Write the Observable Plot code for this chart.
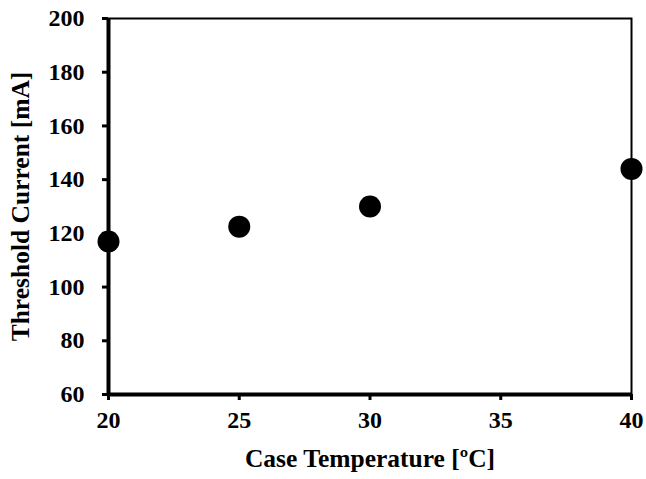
<!DOCTYPE html>
<html>
<head>
<meta charset="utf-8">
<script src="https://cdn.jsdelivr.net/npm/d3@7"></script>
<script src="https://cdn.jsdelivr.net/npm/@observablehq/plot@0.6"></script>
<style>
  html, body { margin: 0; padding: 0; background: #fff; }
  #chart svg { display: block; }
  #chart svg text { font-weight: bold; font-family: 'Liberation Serif', 'Times New Roman', serif; fill: #000; }
</style>
</head>
<body>
<div id="chart"></div>
<script>
const temperatures = [20, 25, 30, 40];
const thresholdCurrent = [117, 122.5, 130, 144];
const xTicks = [20, 25, 30, 35, 40];
const yTicks = [60, 80, 100, 120, 140, 160, 180, 200];

const data = temperatures.map((t, i) => ({t, i: thresholdCurrent[i]}));
const font = "'Liberation Serif', 'Times New Roman', serif";

const chart = Plot.plot({
  width: 646,
  height: 479,
  marginLeft: 108,
  marginRight: 15,
  marginTop: 18,
  marginBottom: 85,
  style: {fontFamily: font, fontWeight: "bold", fontSize: "24px", color: "#000", background: "#fff"},
  x: {domain: [20, 40]},
  y: {domain: [60, 200]},
  marks: [
    Plot.frame({stroke: "#000", strokeWidth: 2}),
    Plot.ruleX([20], {stroke: "#000", strokeWidth: 4}),
    Plot.ruleY([60], {stroke: "#000", strokeWidth: 4}),
    Plot.axisX({ticks: xTicks, tickSize: 6, tickPadding: 10, strokeWidth: 3,
      label: "Case Temperature [ºC]", labelAnchor: "center", labelArrow: "none", labelOffset: 72}),
    Plot.axisY({ticks: yTicks, tickSize: 6, tickPadding: 18, strokeWidth: 3,
      label: "Threshold Current [mA]", labelAnchor: "center", labelArrow: "none", labelOffset: 98}),
    Plot.dot(data, {x: "t", y: "i", r: 11, fill: "#000", stroke: "none"})
  ]
});
chart.querySelectorAll("text").forEach(t => {
  t.style.fontSize = /^\d+$/.test(t.textContent.trim()) ? "24px" : "25.5px";
});
document.getElementById("chart").appendChild(chart);
</script>
</body>
</html>
